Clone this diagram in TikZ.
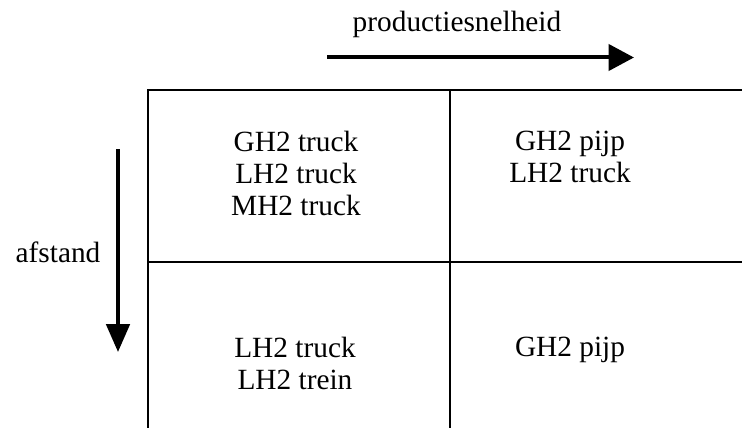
\documentclass[tikz,border=0pt]{standalone}
\usepackage{fontspec}
\setmainfont{Liberation Serif}
\usetikzlibrary{arrows.meta,positioning}

\begin{document}
\begin{tikzpicture}[
    x=0.75pt, y=-0.75pt,
    cell/.style={align=center, inner sep=0pt, anchor=north, font=\fontsize{22}{24}\selectfont},
    lbl/.style={inner sep=0pt, anchor=base, font=\fontsize{22}{24}\selectfont},
    grid/.style={line width=1.5pt},
    axis/.style={line width=3pt}
]
    \useasboundingbox (0,0) rectangle (742,428);

    % table lines, open at the right and bottom
    \draw[grid] (148,428) -- (148,90) -- (742,90);
    \draw[grid] (148,262) -- (742,262);
    \draw[grid] (450,90) -- (450,428);

    % cell contents
    \node[cell] (nearlow) at (296,131) {GH2 truck\\LH2 truck\\MH2 truck};
    \node[cell] (nearhigh) at (570,131) {GH2 pijp\\LH2 truck};
    \node[cell] (farlow) at (295,337) {LH2 truck\\LH2 trein};
    \node[cell] (farhigh) at (570,337) {GH2 pijp};

    % axes
    \coordinate (rate0) at (327,57.5);
    \coordinate (rate1) at (634,57.5);
    \coordinate (dist0) at (118,149);
    \coordinate (dist1) at (118,352);
    \draw[axis, -{Triangle[length=19pt,width=19.5pt]}] (rate0) -- (rate1);
    \draw[axis, -{Triangle[length=21pt,width=17.5pt]}] (dist0) -- (dist1);

    \node[lbl] (ratelbl) at (457,32) {productiesnelheid};
    \node[lbl] (distlbl) at (58,262) {afstand};
\end{tikzpicture}
\end{document}
